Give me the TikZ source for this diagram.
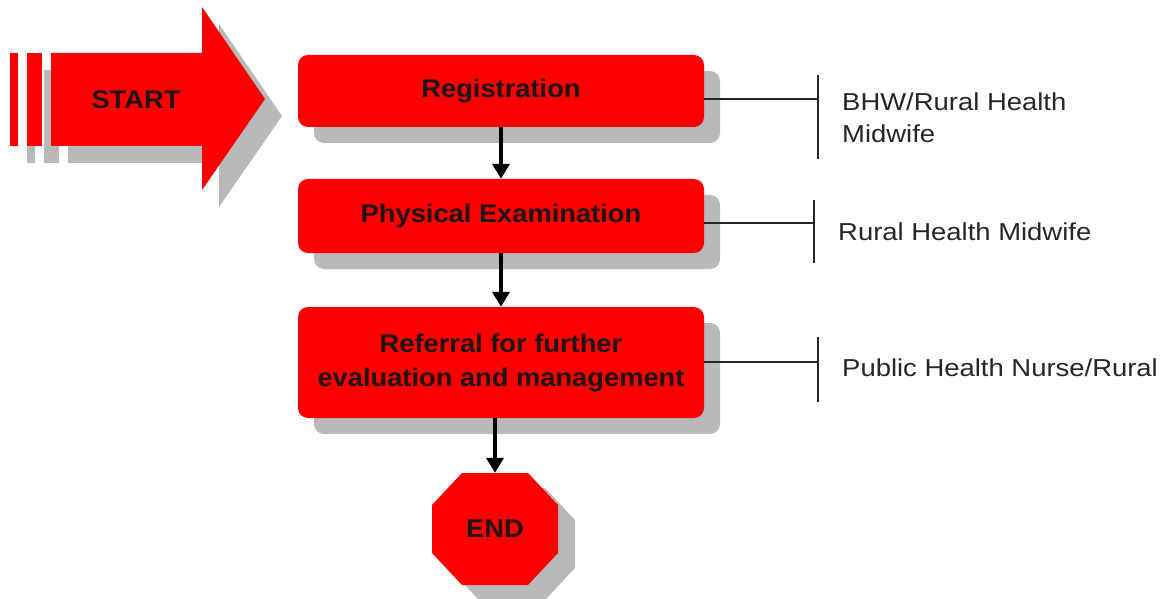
\documentclass[tikz,border=0pt]{standalone}
\usepackage{fontspec}
\setmainfont{Liberation Sans}
\newfontfamily\boxfont[FakeStretch=1.07]{Liberation Sans}
\newfontfamily\rolefont[FakeStretch=1.12]{Liberation Sans}
\usetikzlibrary{arrows.meta,shadows}

\definecolor{boxred}{RGB}{255,0,0}
\definecolor{shadegray}{RGB}{185,185,185}
\definecolor{inkdark}{RGB}{30,20,20}

\begin{document}
\begin{tikzpicture}[x=1pt,y=-1pt,
  stepbox/.style={rectangle, rounded corners=10pt, fill=boxred,
    minimum width=406pt, inner sep=4pt, align=center, text=inkdark,
    font=\boxfont\bfseries\fontsize{25.5}{34}\selectfont,
    drop shadow={shadow xshift=16pt, shadow yshift=-16pt, opacity=1, fill=shadegray}},
  flowarrow/.style={line width=4pt, -{Triangle[width=17pt,length=15pt]}},
  tee/.style={line width=1.6pt, black!85},
  role/.style={anchor=west, inner sep=0pt, align=left, text=black!85,
    font=\rolefont\fontsize{24.5}{32}\selectfont},
  bigtext/.style={text=inkdark, font=\boxfont\bfseries\fontsize{25.5}{34}\selectfont}]
\useasboundingbox (0,0) rectangle (1171,599);

% START arrow: shadow first, then the striped red arrow
\begin{scope}[shift={(17,17)}, fill=shadegray]
  \fill (10,53) rectangle (18,146);
  \fill (27,53) rectangle (42,146);
  \fill (51,53) -- (202,53) -- (202,7) -- (265,99) -- (202,190) -- (202,146) -- (51,146) -- cycle;
\end{scope}
\begin{scope}[fill=boxred]
  \fill (10,53) rectangle (18,146);
  \fill (27,53) rectangle (42,146);
  \fill (51,53) -- (202,53) -- (202,7) -- (265,99) -- (202,190) -- (202,146) -- (51,146) -- cycle;
\end{scope}
\node[bigtext] (start) at (136,100) {START};

% process steps
\node[stepbox, minimum height=72pt] (reg) at (501,91) {Registration};
\node[stepbox, minimum height=74pt] (phys) at (501,216) {Physical Examination};
\node[stepbox, minimum height=111pt] (ref) at (501,362.5) {Referral for further\\evaluation and management};

% END octagon with its shadow
\fill[shadegray, shift={(17,15)}]
  (462,473) -- (528,473) -- (558,505) -- (558,553) -- (528,585) -- (462,585) -- (432,553) -- (432,505) -- cycle;
\fill[boxred]
  (462,473) -- (528,473) -- (558,505) -- (558,553) -- (528,585) -- (462,585) -- (432,553) -- (432,505) -- cycle;
\node[bigtext, minimum width=126pt, minimum height=112pt, inner sep=0pt] (end) at (495,529) {END};

% flow connectors
\draw[flowarrow] (reg) -- (phys);
\draw[flowarrow] (phys) -- (ref);
\draw[flowarrow] (ref.south -| end.north) -- (end.north);

% responsible staff
\coordinate (t1) at (818,99);
\coordinate (t1a) at (818,75);
\coordinate (t1b) at (818,159);
\coordinate (t2) at (814,223);
\coordinate (t2a) at (814,200);
\coordinate (t2b) at (814,263);
\coordinate (t3) at (818,362);
\coordinate (t3a) at (818,337);
\coordinate (t3b) at (818,402);

\draw[tee] (reg.east |- t1) -- (t1);
\draw[tee] (t1a) -- (t1b);
\draw[tee] (phys.east |- t2) -- (t2);
\draw[tee] (t2a) -- (t2b);
\draw[tee] (ref.east |- t3) -- (t3);
\draw[tee] (t3a) -- (t3b);

\node[role] (role1) at (842,118) {BHW/Rural Health\\Midwife};
\node[role] (role2) at (838,232) {Rural Health Midwife};
\node[role] (role3) at (842,368) {Public Health Nurse/Rural};
\end{tikzpicture}
\end{document}
